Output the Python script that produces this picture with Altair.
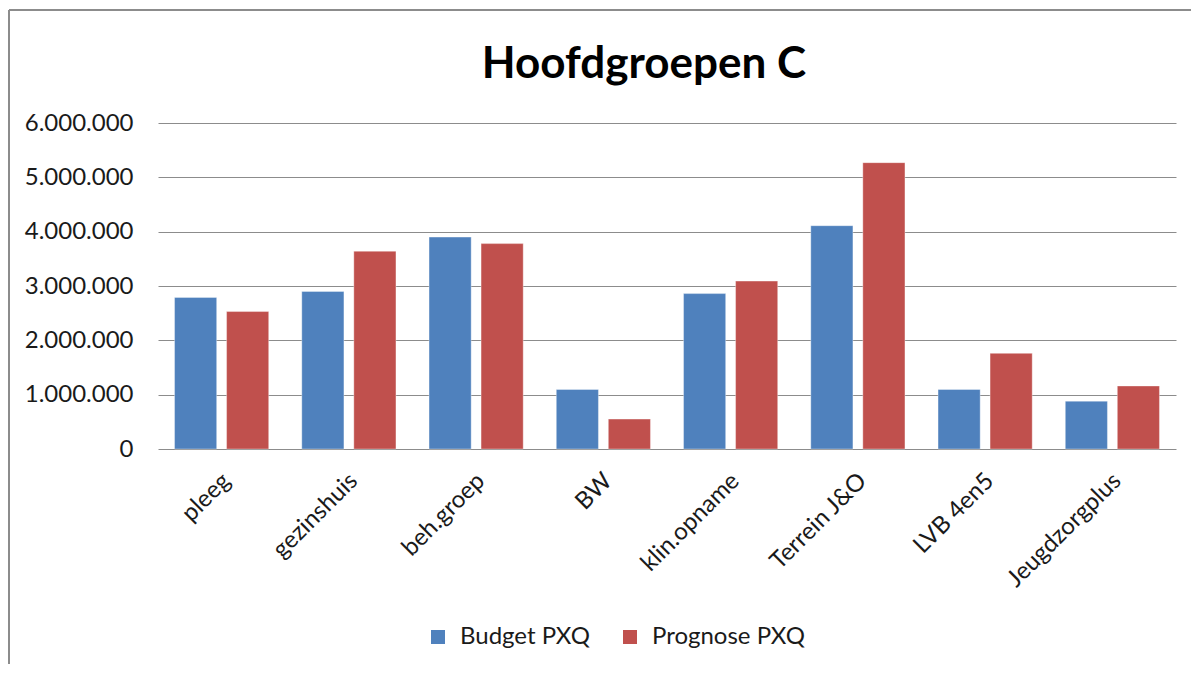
import altair as alt
import pandas as pd

categories = ["pleeg", "gezinshuis", "beh.groep", "BW", "klin.opname", "Terrein J&O", "LVB 4en5", "Jeugdzorgplus"]
budget = [2790000, 2900000, 3900000, 1095000, 2860000, 4110000, 1095000, 880000]
prognose = [2530000, 3640000, 3780000, 550000, 3090000, 5270000, 1760000, 1160000]
series = ["Budget PXQ", "Prognose PXQ"]
colors = ["#4F81BD", "#C0504D"]
y_ticks = [0, 1000000, 2000000, 3000000, 4000000, 5000000, 6000000]

rows = []
for c, b, p in zip(categories, budget, prognose):
    rows.append({"cat": c, "serie": series[0], "waarde": b})
    rows.append({"cat": c, "serie": series[1], "waarde": p})
df = pd.DataFrame(rows)

FONT = "Lato"
FS = 24

bars = alt.Chart(df).mark_bar(stroke="#ffffff", strokeWidth=0.6, strokeOpacity=0.6).encode(
    x=alt.X("cat:N", sort=categories, title=None,
            scale=alt.Scale(paddingInner=0.26, paddingOuter=0.13),
            axis=alt.Axis(labelAngle=-45, labelFontSize=FS, labelFont=FONT, labelColor="#1a1a1a",
                          domain=False, ticks=False, labelPadding=28, labelOffset=5,
                          labelAlign="right", labelBaseline="middle")),
    xOffset=alt.XOffset("serie:N", sort=series, scale=alt.Scale(paddingInner=0.19)),
    y=alt.Y("waarde:Q", title=None,
            scale=alt.Scale(domain=[0, 6000000], nice=False),
            axis=alt.Axis(values=y_ticks, labelFontSize=FS, labelFont=FONT, labelColor="#1a1a1a",
                          domain=False, ticks=False, labelPadding=25,
                          gridColor="#8c8c8c", gridWidth=1, gridOpacity=1,
                          labelExpr="join(split(format(datum.value, ','), ','), '.')")),
    color=alt.Color("serie:N", sort=series, scale=alt.Scale(domain=series, range=colors),
                    legend=alt.Legend(title=None, orient="none", direction="horizontal",
                                      legendX=268, legendY=502,
                                      symbolType="square", symbolSize=196, symbolStrokeWidth=0,
                                      labelFontSize=FS, labelFont=FONT, labelColor="#1a1a1a",
                                      columnPadding=28, labelOffset=10)),
)

frame_left = alt.Chart(pd.DataFrame({"k": [0]})).mark_rule(color="#8c8c8c", strokeWidth=2).encode(
    x=alt.value(-149), y=alt.value(-113), y2=alt.value(640))
frame_top = alt.Chart(pd.DataFrame({"k": [0]})).mark_rule(color="#8c8c8c", strokeWidth=2).encode(
    x=alt.value(-149), x2=alt.value(1060), y=alt.value(-113))

chart = alt.layer(bars, frame_left, frame_top).properties(
    width=1018, height=326,
    title=alt.TitleParams("Hoofdgroepen C", fontSize=44, font=FONT, fontWeight="bold",
                          color="#000", anchor="middle", dx=-23, offset=-78),
    padding={"left": 150, "top": 115, "right": 15, "bottom": 215},
    autosize=alt.AutoSizeParams(type="none"),
).configure_view(stroke=None)

chart.save("out.html", embed_options={"renderer": "svg", "actions": False})
